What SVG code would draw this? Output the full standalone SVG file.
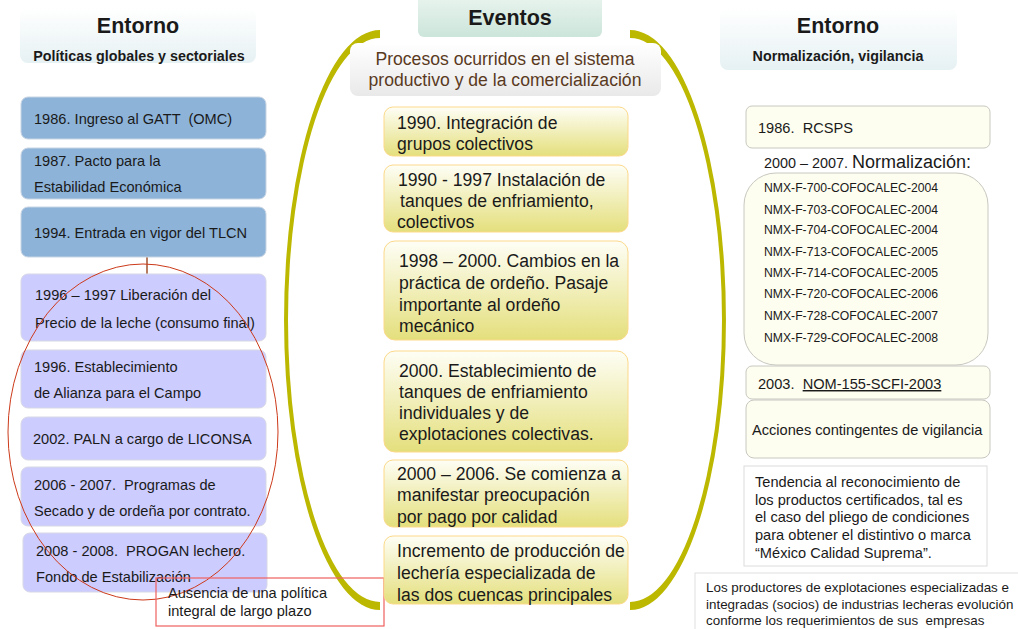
<svg xmlns="http://www.w3.org/2000/svg" width="1018" height="629" viewBox="0 0 1018 629">
<defs>
<linearGradient id="gHeadL" x1="0" y1="0" x2="0" y2="1"><stop offset="0" stop-color="#ffffff"/><stop offset="1" stop-color="#e6f1f3"/></linearGradient>
<linearGradient id="gEv" x1="0" y1="0" x2="0" y2="1"><stop offset="0" stop-color="#eaf5ef"/><stop offset="1" stop-color="#cce5da"/></linearGradient>
<linearGradient id="gSub" x1="0" y1="0" x2="0" y2="1"><stop offset="0" stop-color="#ffffff"/><stop offset="1" stop-color="#e9e9e9"/></linearGradient>
<linearGradient id="gY" x1="0" y1="0" x2="0" y2="1"><stop offset="0" stop-color="#fefef6"/><stop offset="1" stop-color="#e4df7c"/></linearGradient>
<style>
text{font-family:"Liberation Sans",Arial,sans-serif;fill:#1a1a1a;white-space:pre}
.h1{font-size:21.5px;font-weight:bold;text-anchor:middle}
.h2{font-size:14.3px;font-weight:bold;text-anchor:middle}
.blue{fill:#8db3d9;stroke:#c9d5e3;stroke-width:1}
.lav{fill:#ccccff;stroke:#d7d7e6;stroke-width:1}
.t13{font-size:14.6px}
.t16{font-size:17.6px}
.t11{font-size:12.2px}
.t12{font-size:13.4px}
.yel{fill:url(#gY);stroke:#fbd98a;stroke-width:1}
.cream{fill:#fdfdf0;stroke:#c8c8c0;stroke-width:1}
.brk{fill:#bcb800}
</style>
</defs>

<g id="brackets">
<path class="brk" d="M380,30 A96,290 0 0 0 380,610 L380,602 A92,282 0 0 1 380,38 Z"/>
<path class="brk" d="M630,30 A96,290 0 0 1 630,610 L630,602 A92,282 0 0 0 630,38 Z"/>
</g>

<g id="header-left">
<rect x="20" y="8" width="236" height="55" rx="8" fill="url(#gHeadL)"/>
<text class="h1" x="138" y="33">Entorno</text>
<text class="h2" x="139" y="61">Políticas globales y sectoriales</text>
</g>

<g id="connectors">
<line x1="147" y1="257" x2="147" y2="274" stroke="#a0522d" stroke-width="1.5"/>
</g>

<g id="l1"><rect class="blue" x="21" y="97" width="245" height="42" rx="7"/><text class="t13" x="34" y="124" xml:space="preserve">1986. Ingreso al GATT  (OMC)</text></g>
<g id="l2"><rect class="blue" x="21" y="148" width="245" height="51" rx="7"/><text class="t13" x="34" y="166">1987. Pacto para la</text><text class="t13" x="34" y="192">Estabilidad Económica</text></g>
<g id="l3"><rect class="blue" x="21" y="207" width="245" height="50" rx="7"/><text class="t13" x="34" y="238">1994. Entrada en vigor del TLCN</text></g>
<g id="l4"><rect class="lav" x="21" y="274" width="245" height="67" rx="7"/><text class="t13" x="35" y="300">1996 – 1997 Liberación del</text><text class="t13" x="35" y="328">Precio de la leche (consumo final)</text></g>
<g id="l5"><rect class="lav" x="21" y="350" width="245" height="58" rx="7"/><text class="t13" x="34" y="372">1996. Establecimiento</text><text class="t13" x="34" y="398">de Alianza para el Campo</text></g>
<g id="l6"><rect class="lav" x="21" y="417" width="245" height="43" rx="7"/><text class="t13" x="33" y="444">2002. PALN a cargo de LICONSA</text></g>
<g id="l7"><rect class="lav" x="21" y="467" width="245" height="59" rx="7"/><text class="t13" x="34" y="490" xml:space="preserve">2006 - 2007.  Programas de</text><text class="t13" x="34" y="516">Secado y de ordeña por contrato.</text></g>
<g id="l8"><rect class="lav" x="23" y="533" width="244" height="59" rx="7"/><text class="t13" x="36" y="556" xml:space="preserve">2008 - 2008.  PROGAN lechero.</text><text class="t13" x="36" y="582">Fondo de Estabilización</text></g>

<g id="ellipse-left">
<ellipse cx="143" cy="432" rx="135" ry="168" fill="none" stroke="#cc3a1a" stroke-width="1"/>
</g>

<g id="note-ausencia">
<rect x="156" y="578" width="228" height="48" fill="none" stroke="#f06060" stroke-width="1.2"/>
<text class="t13" x="168" y="598">Ausencia de una política</text>
<text class="t13" x="168" y="616">integral de largo plazo</text>
</g>

<g id="header-center">
<rect x="418" y="-6" width="184" height="43" rx="6" fill="url(#gEv)"/>
<text class="h1" x="510" y="25">Eventos</text>
</g>
<g id="sub-center">
<rect x="350" y="43" width="311" height="53" rx="8" fill="url(#gSub)"/>
<text class="t16" x="505" y="65" text-anchor="middle" style="fill:#5a3a1e">Procesos ocurridos en el sistema</text>
<text class="t16" x="505" y="86" text-anchor="middle" style="fill:#5a3a1e">productivo y de la comercialización</text>
</g>

<g id="c1"><rect class="yel" x="384" y="107" width="244" height="49" rx="9"/><text class="t16" x="397" y="129">1990. Integración de</text><text class="t16" x="397" y="150">grupos colectivos</text></g>
<g id="c2"><rect class="yel" x="384" y="165" width="244" height="67" rx="9"/><text class="t16" x="398" y="186">1990 - 1997 Instalación de</text><text class="t16" x="400" y="207">tanques de enfriamiento,</text><text class="t16" x="397" y="228">colectivos</text></g>
<g id="c3"><rect class="yel" x="384" y="241" width="244" height="99" rx="11"/><text class="t16" x="399" y="267">1998 – 2000. Cambios en la</text><text class="t16" x="399" y="289">práctica de ordeño. Pasaje</text><text class="t16" x="399" y="311">importante al ordeño</text><text class="t16" x="399" y="332">mecánico</text></g>
<g id="c4"><rect class="yel" x="384" y="351" width="244" height="101" rx="11"/><text class="t16" x="399" y="377">2000. Establecimiento de</text><text class="t16" x="399" y="398">tanques de enfriamiento</text><text class="t16" x="399" y="419">individuales y de</text><text class="t16" x="399" y="440">explotaciones colectivas.</text></g>
<g id="c5"><rect class="yel" x="384" y="460" width="244" height="67" rx="9"/><text class="t16" x="397" y="480">2000 – 2006. Se comienza a</text><text class="t16" x="397" y="501">manifestar preocupación</text><text class="t16" x="397" y="523">por pago por calidad</text></g>
<g id="c6"><rect class="yel" x="384" y="536" width="244" height="68" rx="9"/><text class="t16" x="397" y="557">Incremento de producción de</text><text class="t16" x="397" y="579">lechería especializada de</text><text class="t16" x="397" y="601">las dos cuencas principales</text></g>

<g id="header-right">
<rect x="720" y="8" width="237" height="62" rx="8" fill="url(#gHeadL)"/>
<text class="h1" x="838" y="33">Entorno</text>
<text class="h2" x="838" y="61">Normalización, vigilancia</text>
</g>

<g id="r1"><rect class="cream" x="746" y="106" width="244" height="42" rx="6"/><text class="t13" x="758" y="133" xml:space="preserve">1986.  RCSPS</text></g>
<g id="r2-label"><text x="764" y="168" xml:space="preserve"><tspan style="font-size:14.4px">2000 – 2007. </tspan><tspan style="font-size:18px">Normalización:</tspan></text></g>
<g id="r2"><rect class="cream" x="744" y="173" width="244" height="192" rx="32"/>
<text class="t11" x="764" y="192">NMX-F-700-COFOCALEC-2004</text>
<text class="t11" x="764" y="214">NMX-F-703-COFOCALEC-2004</text>
<text class="t11" x="764" y="234">NMX-F-704-COFOCALEC-2004</text>
<text class="t11" x="764" y="256">NMX-F-713-COFOCALEC-2005</text>
<text class="t11" x="764" y="277">NMX-F-714-COFOCALEC-2005</text>
<text class="t11" x="764" y="298">NMX-F-720-COFOCALEC-2006</text>
<text class="t11" x="764" y="320">NMX-F-728-COFOCALEC-2007</text>
<text class="t11" x="764" y="342">NMX-F-729-COFOCALEC-2008</text>
</g>
<g id="r3"><rect class="cream" x="746" y="366" width="244" height="33" rx="6"/><text class="t13" x="758" y="389" xml:space="preserve">2003.  <tspan text-decoration="underline">NOM-155-SCFI-2003</tspan></text></g>
<g id="r4"><rect class="cream" x="746" y="400" width="244" height="58" rx="8"/><text class="t13" x="752" y="435">Acciones contingentes de vigilancia</text></g>
<g id="r5"><rect x="744" y="466" width="243" height="100" fill="#ffffff" stroke="#dcdcdc" stroke-width="1"/>
<text class="t13" x="755" y="487">Tendencia al reconocimiento de</text>
<text class="t13" x="755" y="505">los productos certificados, tal es</text>
<text class="t13" x="755" y="522">el caso del pliego de condiciones</text>
<text class="t13" x="755" y="540">para obtener el distintivo o marca</text>
<text class="t13" x="755" y="558">“México Calidad Suprema”.</text>
</g>
<g id="r6"><rect x="695" y="573" width="330" height="60" fill="#ffffff" stroke="#e0e0e0" stroke-width="1"/>
<text class="t12" x="706" y="592">Los productores de explotaciones especializadas e</text>
<text class="t12" x="706" y="609">integradas (socios) de industrias lecheras evolución</text>
<text class="t12" x="706" y="625" xml:space="preserve">conforme los requerimientos de sus  empresas</text>
</g>
</svg>
